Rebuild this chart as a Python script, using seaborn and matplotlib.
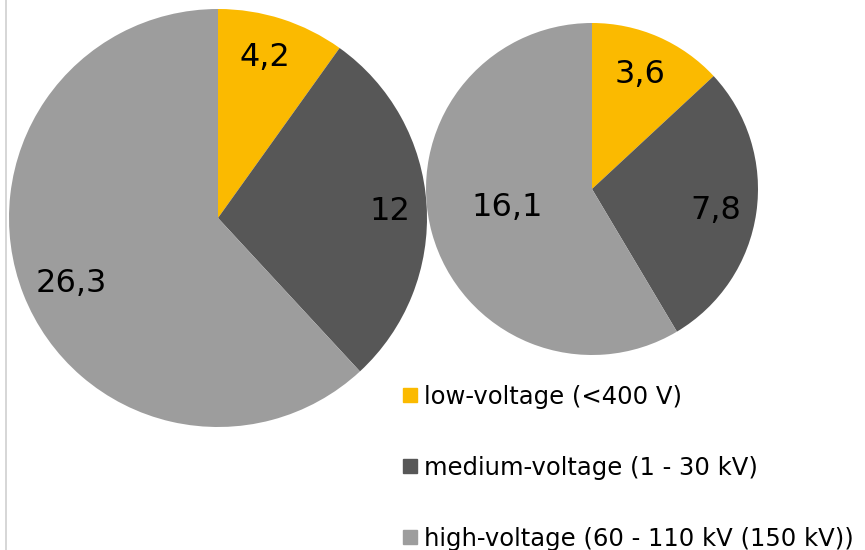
import matplotlib
matplotlib.use("Agg")
import matplotlib.pyplot as plt
from matplotlib.lines import Line2D
import numpy as np
import seaborn as sns

# Voltage levels and the two sets of values
categories = ["low-voltage (<400 V)", "medium-voltage (1 - 30 kV)", "high-voltage (60 - 110 kV (150 kV))"]
values_left = [4.2, 12, 26.3]
values_right = [3.6, 7.8, 16.1]

# Placement of each value label: radial fraction and angular nudge (degrees)
label_r_left = [0.80, 0.824, 0.769]
label_shift_left = [1.4, -1.4, 2.5]
label_r_right = [0.748, 0.758, 0.523]
label_shift_right = [0.9, -1.6, -3.4]

sns.set_theme(style="white")
plt.rcParams["font.family"] = ["DejaVu Sans"]
plt.rcParams["text.color"] = "black"
colors = sns.color_palette(["#FBBA00", "#575757", "#9D9D9D"])

W, H = 865, 550
fig = plt.figure(figsize=(W / 100, H / 100), dpi=100)


def fmt(v):
    return f"{v:g}".replace(".", ",")


def draw_pie(cx, cy, r, vals, radii, shifts):
    ax = fig.add_axes([(cx - r) / W, (H - cy - r) / H, 2 * r / W, 2 * r / H])
    wedges, texts = ax.pie(vals, colors=colors, startangle=90, counterclock=False,
                           labels=[fmt(v) for v in vals], labeldistance=0.8,
                           wedgeprops=dict(linewidth=0),
                           textprops=dict(fontsize=23, color="black"))
    for w, t, rr, sh in zip(wedges, texts, radii, shifts):
        ang = np.deg2rad((w.theta1 + w.theta2) / 2 + sh)
        t.set_position((rr * np.cos(ang), rr * np.sin(ang)))
        t.set_ha("center")
        t.set_va("center")
    ax.set_xlim(-1, 1)
    ax.set_ylim(-1, 1)
    ax.set_axis_off()
    return ax


draw_pie(218, 218, 209, values_left, label_r_left, label_shift_left)
draw_pie(592, 189, 166, values_right, label_r_right, label_shift_right)

# Thin frame line on the left edge
fig.add_artist(Line2D([6 / W, 6 / W], [0, 1], color="#D0D0D0", linewidth=1.2,
                      transform=fig.transFigure))

handles = [Line2D([], [], marker="s", linestyle="none", markersize=9.5,
                  markerfacecolor=c, markeredgecolor=c) for c in colors]
fig.legend(handles, categories, loc="upper left", bbox_to_anchor=(403 / W, 1 - 385 / H),
           frameon=False, fontsize=17.5, handlelength=0.6, handletextpad=0.26,
           labelspacing=1.93, borderaxespad=0, borderpad=0, labelcolor="black")

fig.savefig("out.png", dpi=100)
